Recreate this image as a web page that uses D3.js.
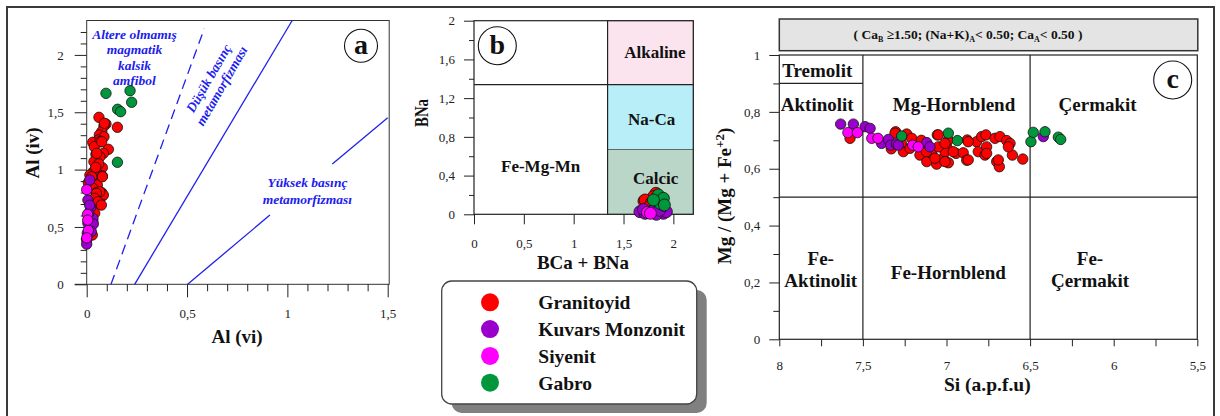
<!DOCTYPE html>
<html><head><meta charset="utf-8">
<script src="https://cdn.jsdelivr.net/npm/d3@7"></script>
<style>body{margin:0;background:#fff} svg{display:block} text{font-family:"Liberation Serif","Times New Roman",serif}</style>
</head><body><svg id="c" width="1220" height="416"></svg>
<script>
// ---------- DATA ----------
const groups = ["Granitoyid", "Kuvars Monzonit", "Siyenit", "Gabro"];
const groupColors = ["#ff0000", "#9900cc", "#ff00ff", "#00963c"];

// Panel a: Al(vi) vs Al(iv)
const aGranitoyid = [[0.061,1.456],[0.096,1.398],[0.086,1.380],[0.153,1.369],[0.075,1.331],[0.063,1.302],[0.086,1.287],[0.058,1.258],[0.030,1.238],[0.066,1.243],[0.038,1.200],[0.108,1.177],[0.083,1.142],[0.046,1.133],[0.066,1.112],[0.036,1.069],[0.078,1.017],[0.033,0.982],[0.053,0.968],[0.016,0.953],[0.078,0.944],[0.033,0.909],[0.008,0.886],[0.053,0.866],[0.030,0.837],[0.050,0.799],[0.075,0.799],[0.078,0.770],[0.063,0.700],[0.025,0.735],[0.028,0.430],[0.016,0.473],[0.088,1.404],[0.075,1.243],[0.050,1.142],[0.078,0.938],[0.025,0.938],[0.083,0.779],[0.065,0.807],[0.048,0.793],[0.040,0.750],[0.056,0.720],[0.073,0.691],[0.060,1.050],[0.045,1.020],[0.040,0.620],[0.030,0.550]];
const aKuvars = [[0.015,0.909],[0.006,0.735],[0.020,0.671],[0.031,0.575],[0.006,0.532],[0.033,0.526],[0.023,0.459],[0.003,0.445],[0.000,0.386],[0.000,0.350],[0.010,0.620],[0.015,0.690]];
const aSiyenit = [[0.000,0.825],[0.004,0.610],[0.008,0.470],[0.000,0.405],[0.005,0.560]];
const aGabro = [[0.036,0.741],[0.096,1.665],[0.216,1.688],[0.224,1.587],[0.154,1.526],[0.169,1.505],[0.153,1.064]];
// boundary lines of panel a
const aDashedLine = [[0.121,0],[0.586,2.23]];
const aLine1 = [[0.239,0],[1.024,2.3]];
const aLine2a = [[0.503,0],[0.913,0.604]];
const aLine2b = [[1.224,1.049],[1.5,1.453]];

// Panel b: BCa+BNa vs BNa
const bGranitoyid = [[1.705,0.137],[1.825,0.217],[1.800,0.182],[1.730,0.096],[1.716,0.148],[1.780,0.120],[1.760,0.080]];
const bKuvars = [[1.665,0.027],[1.716,0.010],[1.900,0.010],[1.830,0.000],[1.930,0.027],[1.780,0.030],[1.860,0.040],[1.700,0.050]];
const bSiyenit = [[1.740,0.020],[1.770,0.010]];
const bGabro = [[1.815,0.148],[1.900,0.096],[1.866,0.114],[1.850,0.200],[1.900,0.165],[1.910,0.096],[1.800,0.148]];
const bFields = [
  {name:"Alkaline", x0:1.34, x1:2.2, y0:1.34, y1:2, fill:"#fce4ef", lx:1.815, ly:1.677},
  {name:"Na-Ca", x0:1.34, x1:2.2, y0:0.67, y1:1.34, fill:"#b8eef8", lx:1.782, ly:0.984},
  {name:"Calcic", x0:1.34, x1:2.2, y0:0, y1:0.67, fill:"#bad6c8", lx:1.822, ly:0.378}
];

// Panel c: Si vs Mg/(Mg+Fe2+)
const cGranitoyid = [[7.577,0.707],[7.304,0.730],[7.308,0.725],[7.238,0.722],[7.208,0.707],[7.258,0.660],[7.218,0.672],[7.159,0.648],[7.118,0.625],[7.059,0.616],[7.089,0.654],[7.055,0.719],[7.019,0.637],[6.989,0.621],[6.999,0.677],[6.989,0.701],[6.943,0.654],[6.900,0.656],[6.879,0.630],[6.876,0.701],[6.820,0.695],[6.810,0.660],[6.790,0.713],[6.764,0.719],[6.770,0.648],[6.760,0.677],[6.710,0.707],[6.680,0.713],[6.640,0.699],[6.620,0.689],[6.700,0.625],[6.684,0.607],[6.606,0.648],[6.544,0.634],[6.630,0.677],[7.009,0.660],[7.049,0.677],[7.049,0.719],[7.009,0.689],[6.960,0.660],[7.069,0.637],[7.009,0.625],[6.870,0.631],[6.870,0.695],[6.760,0.654],[6.690,0.631],[7.270,0.690],[7.330,0.670],[7.150,0.700],[7.120,0.660]];
const cKuvars = [[7.633,0.757],[7.557,0.757],[7.487,0.748],[7.457,0.742],[7.388,0.689],[7.348,0.703],[7.334,0.683],[7.300,0.687],[7.288,0.683],[7.118,0.692],[7.099,0.677],[6.421,0.713]];
const cSiyenit = [[7.590,0.727],[7.533,0.727],[7.447,0.707],[7.410,0.707],[7.202,0.683],[7.169,0.677]];
const cGabro = [[7.268,0.715],[6.989,0.725],[6.935,0.699],[6.495,0.695],[6.481,0.728],[6.411,0.730],[6.331,0.711],[6.317,0.703]];
const cFieldLabels = [
  {t:["Tremolit"], x:7.773, y:0.947},
  {t:["Aktinolit"], x:7.773, y:0.828},
  {t:["Mg-Hornblend"], x:6.955, y:0.828},
  {t:["Çermakit"], x:6.096, y:0.828},
  {t:["Fe-","Aktinolit"], x:7.752, y:0.247},
  {t:["Fe-Hornblend"], x:6.989, y:0.236},
  {t:["Fe-","Çermakit"], x:6.142, y:0.247}
];

// ---------- DRAW ----------
const svg = d3.select("#c");
svg.append("rect").attr("width",1220).attr("height",416).attr("fill","#fff");
svg.append("rect").attr("x",7).attr("y",7).attr("width",1207).attr("height",440)
  .attr("fill","none").attr("stroke","#3a3a3a").attr("stroke-width",2);

const loc = d3.formatLocale({decimal:",", thousands:".", grouping:[3], currency:["",""]});
const fmt = loc.format("~g");
const SERIF = '"Liberation Serif","Times New Roman",serif';

function axis(gen, tx, ty, values, size, pad, labels, fs) {
  const a = gen.tickValues(values).tickSize(size).tickSizeOuter(0).tickPadding(pad)
    .tickFormat(labels ? fmt : "");
  const g = svg.append("g").attr("transform", `translate(${tx},${ty})`).call(a);
  g.select(".domain").remove();
  g.attr("font-family", SERIF).attr("font-size", fs || 13);
  g.selectAll("line").attr("stroke", "#222").attr("stroke-width", 1);
  g.selectAll("text").attr("fill", "#222");
  return g;
}
function dots(data, x, y, r, color) {
  svg.append("g").selectAll("circle").data(data).join("circle")
    .attr("cx", d => x(d[0])).attr("cy", d => y(d[1])).attr("r", r)
    .attr("fill", color).attr("stroke", "#111").attr("stroke-width", 0.8);
}
function label(tx, ty, lines, fs, opts) {
  opts = opts || {};
  const lh = opts.lh || fs * 1.05;
  const t = svg.append("text").attr("transform", `translate(${tx},${ty}) rotate(${opts.rot||0})`)
    .attr("text-anchor", "middle").attr("font-size", fs).attr("font-weight", "bold")
    .attr("font-style", opts.italic ? "italic" : "normal").attr("fill", opts.color || "#111");
  lines.forEach((s, i) => {
    t.append("tspan").attr("x", 0).attr("y", (i - (lines.length - 1) / 2) * lh).attr("dy", "0.35em").text(s);
  });
  return t;
}
function panelBadge(cx, cy, r, ch) {
  svg.append("circle").attr("cx", cx).attr("cy", cy).attr("r", r).attr("fill", "#fff")
    .attr("stroke", "#111").attr("stroke-width", 1.1);
  svg.append("text").attr("x", cx).attr("y", cy).attr("dy", "0.3em").attr("text-anchor", "middle")
    .attr("font-size", 28).attr("font-weight", "bold").attr("fill", "#111").text(ch);
}

// ===== Panel a =====
const xa = d3.scaleLinear().domain([0, 1.5]).range([86.7, 387.7]);
const ya = d3.scaleLinear().domain([0, 2.3]).range([284.3, 20.5]);
svg.append("rect").attr("x", xa(0)).attr("y", ya(2.3)).attr("width", xa(1.5) - xa(0) + 1.5)
  .attr("height", ya(0) - ya(2.3)).attr("fill", "none").attr("stroke", "#333").attr("stroke-width", 1);
axis(d3.axisLeft(ya), xa(0), 0, [0, 0.5, 1, 1.5, 2], 12, 11, true);
axis(d3.axisLeft(ya), xa(0), 0, d3.range(0, 23).map(i => i / 10).filter(v => Math.round(v * 10) % 5 !== 0), 6, 0, false);
axis(d3.axisBottom(xa), 0, ya(0), [0, 0.5, 1, 1.5], 13, 11, true);
axis(d3.axisBottom(xa), 0, ya(0), d3.range(0, 16).map(i => i / 10).filter(v => Math.round(v * 10) % 5 !== 0), 7, 0, false);
svg.append("line").attr("x1", xa(0) - 12).attr("x2", xa(0)).attr("y1", ya(0)).attr("y2", ya(0)).attr("stroke", "#222");

const blue = "#2020ee";
const lineGen = d3.line().x(d => xa(d[0])).y(d => ya(d[1]));
svg.append("path").attr("d", lineGen(aDashedLine)).attr("stroke", blue).attr("stroke-width", 1.3)
  .attr("fill", "none").attr("stroke-dasharray", "10,6");
[aLine1, aLine2a, aLine2b].forEach(l => svg.append("path").attr("d", lineGen(l))
  .attr("stroke", blue).attr("stroke-width", 1.3).attr("fill", "none"));

label(xa(0.238), ya(1.98), ["Altere olmamış", "magmatik", "kalsik", "amfibol"], 13.5, {italic: true, color: blue, lh: 15.2});
label(xa(1.1), ya(0.815), ["Yüksek basınç", "metamorfizması"], 13.5, {italic: true, color: blue, lh: 16.5});
label(215, 82, ["Düşük basınç", "metamorfizması"], 13.5, {italic: true, color: blue, lh: 15, rot: -60});

dots(aGabro, xa, ya, 5.2, groupColors[3]);
dots(aGranitoyid, xa, ya, 5.2, groupColors[0]);
dots(aKuvars, xa, ya, 5.2, groupColors[1]);
dots(aSiyenit, xa, ya, 5.2, groupColors[2]);

panelBadge(361, 45.7, 16.5, "a");
svg.append("text").attr("transform", "translate(39,153) rotate(-90)").attr("text-anchor", "middle")
  .attr("font-size", 19).attr("font-weight", "bold").attr("fill", "#111").text("Al (iv)");
svg.append("text").attr("x", 237).attr("y", 343).attr("text-anchor", "middle")
  .attr("font-size", 19).attr("font-weight", "bold").attr("fill", "#111").text("Al (vi)");

// ===== Panel b =====
const xb = d3.scaleLinear().domain([0, 2.2]).range([474, 693.3]);
const yb = d3.scaleLinear().domain([0, 2]).range([214.3, 20.7]);
svg.append("g").selectAll("rect").data(bFields).join("rect")
  .attr("x", d => xb(d.x0)).attr("y", d => yb(d.y1)).attr("width", d => xb(d.x1) - xb(d.x0))
  .attr("height", d => yb(d.y0) - yb(d.y1)).attr("fill", d => d.fill).attr("stroke", "#555").attr("stroke-width", 0.8);
svg.append("rect").attr("x", xb(0)).attr("y", yb(2)).attr("width", xb(2.2) - xb(0))
  .attr("height", yb(0) - yb(2)).attr("fill", "none").attr("stroke", "#222").attr("stroke-width", 1.2);
svg.append("line").attr("x1", xb(0)).attr("x2", xb(2.2)).attr("y1", yb(1.34)).attr("y2", yb(1.34)).attr("stroke", "#222").attr("stroke-width", 1.2);
svg.append("line").attr("x1", xb(1.34)).attr("x2", xb(1.34)).attr("y1", yb(0)).attr("y2", yb(2)).attr("stroke", "#222").attr("stroke-width", 1.2);
axis(d3.axisLeft(yb), xb(0), 0, [0, 0.4, 0.8, 1.2, 1.6, 2], 10, 9, true);
axis(d3.axisLeft(yb), xb(0), 0, [0.2, 0.6, 1.0, 1.4, 1.8], 5, 0, false);
axis(d3.axisBottom(xb), 0, yb(0), [0, 0.5, 1, 1.5, 2], 10, 14, true);
svg.append("g").selectAll("text").data(bFields).join("text")
  .attr("x", d => xb(d.lx)).attr("y", d => yb(d.ly))
  .attr("dy", "0.35em").attr("text-anchor", "middle").attr("font-size", 17).attr("font-weight", "bold")
  .attr("fill", "#111").text(d => d.name);
label(xb(0.669), yb(0.502), ["Fe-Mg-Mn"], 17);
dots(bGranitoyid, xb, yb, 6, groupColors[0]);
dots(bKuvars, xb, yb, 6, groupColors[1]);
dots(bSiyenit, xb, yb, 6, groupColors[2]);
dots(bGabro, xb, yb, 6, groupColors[3]);
panelBadge(497.3, 45.7, 19, "b");
svg.append("text").attr("transform", "translate(428,113) rotate(-90)").attr("text-anchor", "middle")
  .attr("font-size", 19).attr("font-weight", "bold").attr("fill", "#111")
  .attr("textLength", 28).attr("lengthAdjust", "spacingAndGlyphs").text("BNa");
svg.append("text").attr("x", 583).attr("y", 268.5).attr("text-anchor", "middle")
  .attr("font-size", 19).attr("font-weight", "bold").attr("fill", "#111").text("BCa + BNa");

// ===== Legend =====
svg.append("rect").attr("x", 451.7).attr("y", 290).attr("width", 255).attr("height", 123).attr("rx", 10)
  .attr("fill", "#808080");
svg.append("rect").attr("x", 441.7).attr("y", 281).attr("width", 255).attr("height", 123).attr("rx", 10)
  .attr("fill", "#fff").attr("stroke", "#444").attr("stroke-width", 1.3);
const lg = svg.append("g").selectAll("g").data(groups).join("g")
  .attr("transform", (d, i) => `translate(0,${302.3 + i * 26.8})`);
lg.append("circle").attr("cx", 490).attr("cy", 0).attr("r", 9).attr("fill", (d, i) => groupColors[i]);
lg.append("text").attr("x", 538.3).attr("y", 0).attr("dy", "0.35em").attr("font-size", 19.5)
  .attr("font-weight", "bold").attr("fill", "#111").text(d => d);

// ===== Panel c =====
const xc = d3.scaleLinear().domain([8, 5.5]).range([779.3, 1197.3]);
const yc = d3.scaleLinear().domain([0, 1]).range([339.3, 55]);
svg.append("rect").attr("x", xc(8)).attr("y", 19).attr("width", xc(5.5) - xc(8) + 0.5).attr("height", 31.7)
  .attr("fill", "#e4e4e4").attr("stroke", "#333").attr("stroke-width", 1.5);
const ht = svg.append("text").attr("x", 968).attr("y", 34).attr("dy", "0.35em").attr("text-anchor", "middle")
  .attr("font-size", 13.5).attr("font-weight", "bold").attr("fill", "#111");
ht.append("tspan").text("( Ca");
ht.append("tspan").attr("font-size", 8).attr("dy", "3").text("B");
ht.append("tspan").attr("dy", "-3").text(" ≥1.50; (Na+K)");
ht.append("tspan").attr("font-size", 8).attr("dy", "3").text("A");
ht.append("tspan").attr("dy", "-3").text("< 0.50; Ca");
ht.append("tspan").attr("font-size", 8).attr("dy", "3").text("A");
ht.append("tspan").attr("dy", "-3").text("< 0.50 )");

svg.append("rect").attr("x", xc(8)).attr("y", yc(1)).attr("width", xc(5.5) - xc(8))
  .attr("height", yc(0) - yc(1)).attr("fill", "none").attr("stroke", "#222").attr("stroke-width", 1.2);
[[[7.5,0],[7.5,1]], [[6.5,0],[6.5,1]], [[8,0.5],[5.5,0.5]], [[8,0.9],[7.5,0.9]]].forEach(l =>
  svg.append("line").attr("x1", xc(l[0][0])).attr("y1", yc(l[0][1])).attr("x2", xc(l[1][0])).attr("y2", yc(l[1][1]))
    .attr("stroke", "#222").attr("stroke-width", 1.2));
axis(d3.axisLeft(yc), xc(8), 0, [0, 0.2, 0.4, 0.6, 0.8, 1], 10, 9, true);
axis(d3.axisLeft(yc), xc(8), 0, [0.1, 0.3, 0.5, 0.7, 0.9], 6, 0, false);
axis(d3.axisBottom(xc), 0, yc(0), [8, 7.5, 7, 6.5, 6, 5.5], 7, 14.5, true);
axis(d3.axisBottom(xc), 0, yc(0), [7.75, 7.25, 6.75, 6.25, 5.75], 7, 0, false);
cFieldLabels.forEach(d => label(xc(d.x), yc(d.y), d.t, 19, {lh: 22}));
dots(cGranitoyid, xc, yc, 5.2, groupColors[0]);
dots(cKuvars, xc, yc, 5.2, groupColors[1]);
dots(cSiyenit, xc, yc, 5.2, groupColors[2]);
dots(cGabro, xc, yc, 5.2, groupColors[3]);
panelBadge(1172.7, 80, 19, "c");
const yt = svg.append("text").attr("transform", "translate(731,196) rotate(-90)").attr("text-anchor", "middle")
  .attr("font-size", 19).attr("font-weight", "bold").attr("fill", "#111");
yt.append("tspan").text("Mg / (Mg + Fe");
yt.append("tspan").attr("font-size", 13).attr("dy", "-7").text("+2");
yt.append("tspan").attr("dy", "7").text(")");
svg.append("text").attr("x", 987.3).attr("y", 391).attr("text-anchor", "middle")
  .attr("font-size", 19.5).attr("font-weight", "bold").attr("fill", "#111").text("Si (a.p.f.u)");
</script></body></html>
